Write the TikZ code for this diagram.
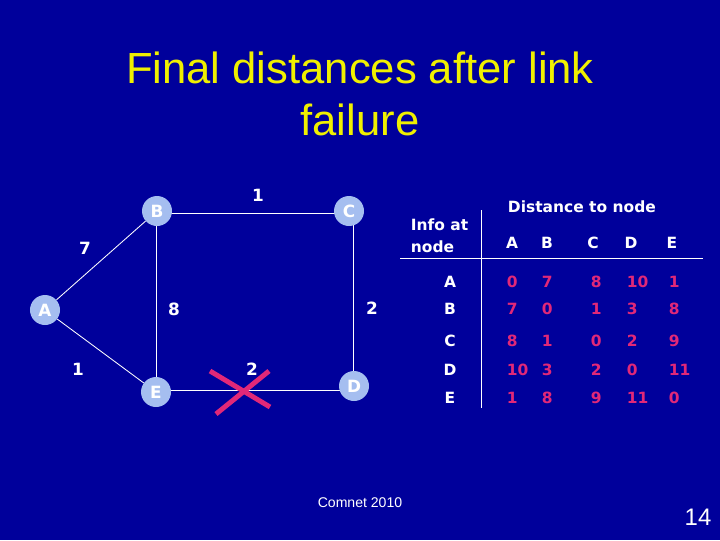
\documentclass[tikz,border=0pt]{standalone}
\usepackage{fontspec}
\setmainfont{Liberation Sans}
\newfontfamily\comicfont{DejaVu Sans}
\definecolor{slidebg}{RGB}{0,0,155}
\definecolor{titleyellow}{RGB}{240,240,0}
\definecolor{nodeblue}{RGB}{165,190,240}
\definecolor{distred}{RGB}{225,40,120}
\begin{document}
\begin{tikzpicture}[x=0.025cm, y=-0.025cm,
    router/.style={circle, fill=nodeblue, minimum size=0.75cm, inner sep=0pt,
                   text=white, font=\comicfont\bfseries\fontsize{12}{14}\selectfont},
    link/.style={white, line width=0.6pt},
    cost/.style={text=white, font=\comicfont\bfseries\fontsize{12}{14}\selectfont},
    tabtext/.style={text=white, text height=1.6ex, text depth=0.2ex,
                    font=\comicfont\bfseries\fontsize{11}{14}\selectfont},
    dist/.style={text=distred, anchor=west, text height=1.6ex, text depth=0.2ex,
                 font=\comicfont\bfseries\fontsize{11}{14}\selectfont}]
        \fill[slidebg] (0,0) rectangle (720,540);
        \useasboundingbox (0,0) rectangle (720,540);
        % title
        \node[text=titleyellow, align=center, font=\fontsize{31}{37}\selectfont] (title) at (360,94)
            {Final distances after link\\failure};
        % network
        \draw[link] (156,213) -- (353,213);
        \draw[link] (156,213) -- (156,390);
        \draw[link] (353,213) -- (353,390);
        \draw[link] (156,390) -- (353,390);
        \node[router] (B) at (157,211) {B};
        \node[router] (C) at (349,211) {C};
        \node[router] (A) at (45,310) {A};
        \node[router] (E) at (156,392) {E};
        \node[router] (D) at (354,386) {D};
        \draw[link] (A) -- (B);
        \draw[link] (A) -- (E);
        \node[cost] (cBC) at (258,195) {1};
        \node[cost] (cAB) at (85,248) {7};
        \node[cost] (cBE) at (174,309) {8};
        \node[cost] (cCD) at (372,308) {2};
        \node[cost] (cAE) at (78,369) {1};
        \node[cost] (cED) at (252,369) {2};
        % broken link
        \draw[distred, line width=3.5pt] (210,371) -- (270,407);
        \draw[distred, line width=3.5pt] (216,414) -- (269,371);
        % table
        \draw[white, line width=0.6pt] (481,210) -- (481,408);
        \draw[white, line width=0.6pt] (400,258) -- (703,258);
        \node[tabtext, anchor=west] (info) at (406,225) {Info at};
        \node[tabtext, anchor=west] (infonode) at (406,247) {node};
        \node[tabtext, anchor=west] (head) at (503,207) {Distance to node};
        \foreach \n/\x in {A/512,B/547,C/593,D/631,E/672} {
            \node[tabtext] (h\n) at (\x,243) {\n};
        }
        \foreach \n/\y/\a/\b/\c/\d/\e in {A/282/0/7/8/10/1, B/309/7/0/1/3/8,
                C/341/8/1/0/2/9, D/370/10/3/2/0/11, E/398/1/8/9/11/0} {
            \node[tabtext] (r\n) at (450,\y) {\n};
            \node[dist] (r\n a) at (502,\y) {\a};
            \node[dist] (r\n b) at (537,\y) {\b};
            \node[dist] (r\n c) at (586,\y) {\c};
            \node[dist] (r\n d) at (622,\y) {\d};
            \node[dist] (r\n e) at (664,\y) {\e};
        }
        % footer
        \node[text=white, font=\fontsize{10}{12}\selectfont] (foot) at (360,503) {Comnet 2010};
        \node[text=white, font=\fontsize{17}{20}\selectfont] (page) at (698,517) {14};
\end{tikzpicture}
\end{document}
